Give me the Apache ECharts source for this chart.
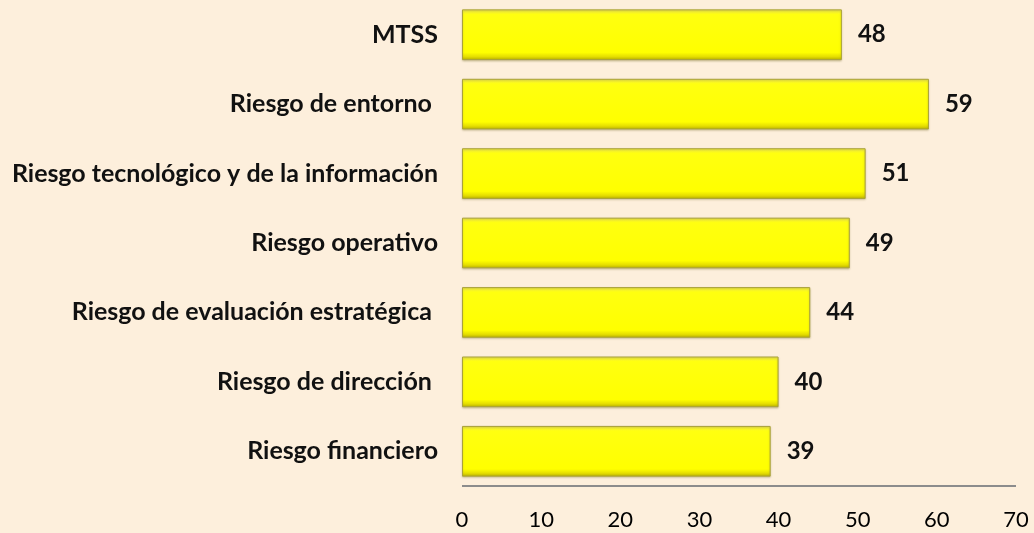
<!DOCTYPE html>
<html>
<head>
<meta charset="utf-8">
<script src="https://cdn.jsdelivr.net/npm/echarts@6/dist/echarts.min.js"></script>
<style>
    html, body { margin: 0; padding: 0; background: #fdefdc; }
    #chart { width: 1034px; height: 533px; }
</style>
</head>
<body>
<div id="chart"></div>
<script>
// categories from bottom to top (ECharts draws category axis upwards)
const categories = [
    'Riesgo financiero',
    'Riesgo de dirección ',
    'Riesgo de evaluación estratégica ',
    'Riesgo operativo',
    'Riesgo tecnológico y de la información',
    'Riesgo de entorno ',
    'MTSS'
];
const values = [39, 40, 44, 49, 51, 59, 48];
const xTicks = [0, 10, 20, 30, 40, 50, 60, 70];

var chart = echarts.init(document.getElementById('chart'));

// bevelled yellow fill
const barFill = new echarts.graphic.LinearGradient(0, 0, 0, 1, [
    { offset: 0, color: '#f2ea50' },
    { offset: 0.1, color: '#ffff10' },
    { offset: 0.85, color: '#ffff00' },
    { offset: 0.93, color: '#e6df00' },
    { offset: 1, color: '#b8b000' }
]);

chart.setOption({
    backgroundColor: '#fdefdc',
    animation: false,
    grid: {
        left: 462,
        right: 18,
        top: -3,
        bottom: 47,
        containLabel: false
    },
    xAxis: {
        type: 'value',
        min: xTicks[0],
        max: xTicks[xTicks.length - 1],
        interval: 10,
        position: 'bottom',
        splitLine: { show: false },
        axisTick: { show: false },
        axisLine: { show: false },
        axisLabel: {
            color: '#000',
            fontFamily: 'Lato',
            fontSize: 22,
            margin: 23
        }
    },
    yAxis: {
        type: 'category',
        data: categories,
        axisTick: { show: false },
        axisLine: {
            show: false
        },
        axisLabel: {
            color: '#111',
            fontFamily: 'Lato',
            fontWeight: 'bold',
            fontSize: 25,
            margin: 24
        }
    },
    series: [
        {
            type: 'bar',
            data: values,
            barWidth: '73%',
            itemStyle: {
                color: barFill,
                borderColor: '#a9a23a',
                borderWidth: 1,
                shadowColor: 'rgba(120, 110, 40, 0.35)',
                shadowBlur: 2,
                shadowOffsetY: 1
            },
            label: {
                show: true,
                position: 'right',
                distance: 16,
                color: '#111',
                fontFamily: 'Lato',
                fontWeight: 'bold',
                fontSize: 24
            }
        }
    ],
    graphic: [
        {
            // bottom axis line of the original (shorter than grid, ends past 70)
            type: 'line',
            shape: { x1: 462, y1: 486, x2: 1016, y2: 486 },
            style: { stroke: '#8c8c8c', lineWidth: 2 }
        }
    ]
});
</script>
</body>
</html>
